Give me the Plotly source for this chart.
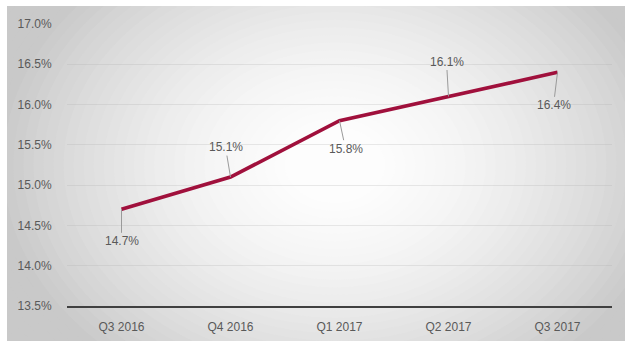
import plotly.graph_objects as go

quarters = ["Q3 2016", "Q4 2016", "Q1 2017", "Q2 2017", "Q3 2017"]
rates = [14.7, 15.1, 15.8, 16.1, 16.4]
label_text = ["14.7%", "15.1%", "15.8%", "16.1%", "16.4%"]
y_ticks = [13.5, 14.0, 14.5, 15.0, 15.5, 16.0, 16.5, 17.0]
y_tick_text = ["13.5%", "14.0%", "14.5%", "15.0%", "15.5%", "16.0%", "16.5%", "17.0%"]
# label offsets (pixels) relative to each point
label_dx = [0, -5, 6, -2, -4]
label_dy = [32, -30, 28, -35, 33]

W, H = 625, 341
ML, MR, MT, MB = 67, 13, 24, 35
PW, PH = W - ML - MR, H - MT - MB


def px_x(p):
    return (p - ML) / PW


def px_y(p):
    return (H - MB - p) / PH


# radial gradient background made of concentric ellipses
shapes = []
bg_left, bg_top = 7, 6
shapes.append(dict(type="rect", xref="paper", yref="paper",
                   x0=px_x(bg_left), x1=px_x(W + 5), y0=px_y(H + 5), y1=px_y(bg_top),
                   fillcolor="rgb(201,201,201)", line=dict(width=0), layer="below"))
cx, cy, Rx, Ry = 335, 165, 335, 255
N = 45
rmax = 1.35
for i in range(N):
    r = rmax * (1 - i / N)
    c = 255 - 52 * (r ** 1.7)
    c = int(round(max(201, min(253, c))))
    shapes.append(dict(type="circle", xref="paper", yref="paper",
                       x0=px_x(cx - Rx * r), x1=px_x(cx + Rx * r),
                       y0=px_y(cy + Ry * r), y1=px_y(cy - Ry * r),
                       fillcolor=f"rgb({c},{c},{c})", line=dict(width=0), layer="below"))
# cover outer white margins
shapes.append(dict(type="rect", xref="paper", yref="paper",
                   x0=px_x(-20), x1=px_x(bg_left), y0=px_y(H + 20), y1=px_y(-20),
                   fillcolor="white", line=dict(width=0), layer="below"))
shapes.append(dict(type="rect", xref="paper", yref="paper",
                   x0=px_x(-20), x1=px_x(W + 20), y0=px_y(bg_top), y1=px_y(-20),
                   fillcolor="white", line=dict(width=0), layer="below"))

fig = go.Figure()
fig.add_trace(go.Scatter(
    x=quarters, y=rates, mode="lines",
    line=dict(color="#A0103C", width=3.6),
    hoverinfo="skip", showlegend=False,
))

annotations = []
for q, v, t, dx, dy in zip(quarters, rates, label_text, label_dx, label_dy):
    annotations.append(dict(
        x=q, y=v, xref="x", yref="y", text=t,
        showarrow=True, arrowhead=0, arrowwidth=1, arrowcolor="#9a9a9a",
        ax=dx, ay=dy, standoff=0, startstandoff=0,
        font=dict(family="Liberation Sans, Arial, sans-serif", size=12, color="#595959"),
    ))

fig.update_layout(
    width=W, height=H,
    margin=dict(l=ML, r=MR, t=MT, b=MB, autoexpand=False),
    paper_bgcolor="white",
    plot_bgcolor="rgba(0,0,0,0)",
    shapes=shapes,
    annotations=annotations,
    font=dict(family="Liberation Sans, Arial, sans-serif", size=12, color="#595959"),
    xaxis=dict(
        type="category", range=[-0.5, 4.5], showgrid=False, automargin=False,
        showline=True, linecolor="#404040", linewidth=2,
        ticks="outside", ticklen=9, tickcolor="rgba(0,0,0,0)",
        tickfont=dict(size=12, color="#595959"), fixedrange=True,
    ),
    yaxis=dict(
        range=[13.5, 17.0], tickvals=y_ticks, ticktext=y_tick_text, automargin=False,
        showgrid=True, gridcolor="rgba(170,170,170,0.25)", gridwidth=1,
        zeroline=False, showline=False,
        ticks="outside", ticklen=12, tickcolor="rgba(0,0,0,0)",
        tickfont=dict(size=12, color="#595959"), fixedrange=True,
    ),
)

fig.write_html("out.html")
